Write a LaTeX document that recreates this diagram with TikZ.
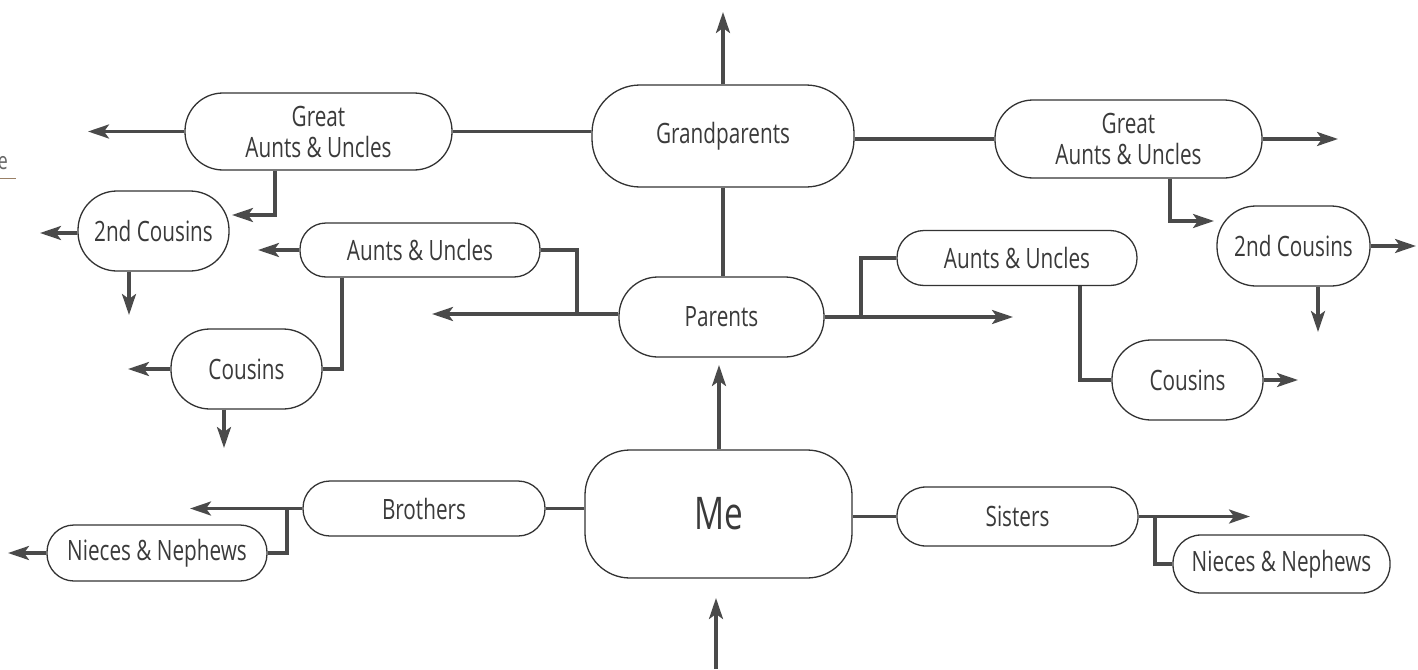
\documentclass[tikz,border=0pt]{standalone}
\usepackage{fontspec}
\setmainfont{Open Sans}[FakeStretch=0.74]
\usetikzlibrary{arrows.meta,backgrounds}
\definecolor{lnc}{HTML}{4A4A4A}
\definecolor{bdc}{HTML}{333333}
\definecolor{txc}{HTML}{3A3A3A}
\tikzset{
  x=1pt,y=-1pt,
  pill/.style={draw=bdc,line width=1.3pt,fill=white,text=txc,inner sep=0pt,align=center,
    font=\fontsize{28}{31}\selectfont},
  conn/.style={draw=lnc,line width=3.2pt},
  arr/.style={conn,-{Stealth[length=21pt,width=14pt,inset=5pt]}},
}
\begin{document}
\begin{tikzpicture}
\useasboundingbox (0,0) rectangle (1418,669);
% nodes
\node[pill,minimum width=262pt,minimum height=102pt,rounded corners=48pt] (gp) at (723,136) {Grandparents};
\node[pill,minimum width=267pt,minimum height=77pt,rounded corners=38pt] (gauL) at (318.5,131.5) {Great\\Aunts \& Uncles};
\node[pill,minimum width=267pt,minimum height=78pt,rounded corners=38pt] (gauR) at (1128.5,139) {Great\\Aunts \& Uncles};
\node[pill,minimum width=151pt,minimum height=80pt,rounded corners=39pt] (c2L) at (153.5,231) {2nd Cousins};
\node[pill,minimum width=153pt,minimum height=80pt,rounded corners=39pt] (c2R) at (1293.5,246) {2nd Cousins};
\node[pill,minimum width=240pt,minimum height=54pt,rounded corners=26pt] (auL) at (420,250) {Aunts \& Uncles};
\node[pill,minimum width=240pt,minimum height=55pt,rounded corners=27pt] (auR) at (1017,258) {Aunts \& Uncles};
\node[pill,minimum width=205pt,minimum height=80pt,rounded corners=39pt] (par) at (721.5,317) {Parents};
\node[pill,minimum width=151pt,minimum height=80pt,rounded corners=39pt] (cL) at (246.5,369) {Cousins};
\node[pill,minimum width=151pt,minimum height=80pt,rounded corners=39pt] (cR) at (1187.5,380) {Cousins};
\node[pill,minimum width=267pt,minimum height=128pt,rounded corners=45pt,font=\fontsize{45}{50}\selectfont] (me) at (718.5,514) {Me};
\node[pill,minimum width=242pt,minimum height=55pt,rounded corners=27pt] (bro) at (424,508.5) {Brothers};
\node[pill,minimum width=241pt,minimum height=59pt,rounded corners=29pt] (sis) at (1017.5,516.5) {Sisters};
\node[pill,minimum width=220pt,minimum height=56pt,rounded corners=27pt] (nnL) at (157,553) {Nieces \& Nephews};
\node[pill,minimum width=217pt,minimum height=58pt,rounded corners=28pt] (nnR) at (1281.5,564) {Nieces \& Nephews};
% stray page fragment
\node[anchor=base east,text=gray!80!black,inner sep=0pt,font=\fontsize{24}{26}\selectfont] (frag) at (8,169) {e};
\draw[draw=brown!40!gray,line width=0.9pt] (0,178) -- (16,178);
% free ends
\coordinate (gpup) at (723,12);
\coordinate (gauLend) at (88,131.5);
\coordinate (gauRend) at (1338,139);
\coordinate (c2Lend) at (40,233);
\coordinate (c2Ldn) at (129,315);
\coordinate (c2Rend) at (1416,246);
\coordinate (c2Rdn) at (1318,332);
\coordinate (auLend) at (258,250);
\coordinate (parL) at (432,314);
\coordinate (parR) at (1013,317);
\coordinate (cLend) at (128,369);
\coordinate (cLdn) at (224,448);
\coordinate (cRend) at (1298,380);
\coordinate (meup) at (719,365);
\coordinate (bot) at (716,669);
\coordinate (botend) at (716,598);
\coordinate (broend) at (190,508.5);
\coordinate (nnLend) at (8,553);
\coordinate (sisend) at (1250,516.5);
\begin{scope}[on background layer]
\draw[arr] (gp.north) -- (gpup);
\draw[conn] (gauL.east) -- (gauL.east -| gp.west);
\draw[conn] (gp.east |- gauR.west) -- (gauR.west);
\draw[arr] (gauL.west) -- (gauLend);
\draw[arr] (gauR.east) -- (gauRend);
\draw[arr] (gauL.south -| 275,0) |- (232,215);
\draw[arr] (gauR.south -| 1170,0) |- (1214,221);
\draw[arr] (c2L.west |- c2Lend) -- (c2Lend);
\draw[arr] (c2L.south -| c2Ldn) -- (c2Ldn);
\draw[arr] (c2R.east) -- (c2Rend);
\draw[arr] (c2R.south -| c2Rdn) -- (c2Rdn);
\draw[conn] (gp.south) -- (gp.south |- par.north);
\draw[arr] (auL.west) -- (auLend);
\draw[arr] (par.west |- parL) -- (parL);
\draw[conn] (auL.east) -| (577,314);
\draw[conn] (auL.south -| 342,0) |- (cL.east);
\draw[arr] (cL.west) -- (cLend);
\draw[arr] (cL.south -| cLdn) -- (cLdn);
\draw[arr] (par.east) -- (parR);
\draw[conn] (861,317) |- (auR.west);
\draw[conn] (auR.south -| 1080,0) |- (cR.west);
\draw[arr] (cR.east) -- (cRend);
\draw[arr] (me.north -| meup) -- (meup);
\draw[arr] (bot) -- (botend);
\draw[conn] (bro.east) -- (bro.east -| me.west);
\draw[arr] (bro.west) -- (broend);
\draw[conn] (287,508.5) |- (nnL.east);
\draw[arr] (nnL.west) -- (nnLend);
\draw[conn] (me.east |- sis.west) -- (sis.west);
\draw[arr] (sis.east) -- (sisend);
\draw[conn] (1155,516.5) |- (nnR.west);
\end{scope}
\end{tikzpicture}
\end{document}
